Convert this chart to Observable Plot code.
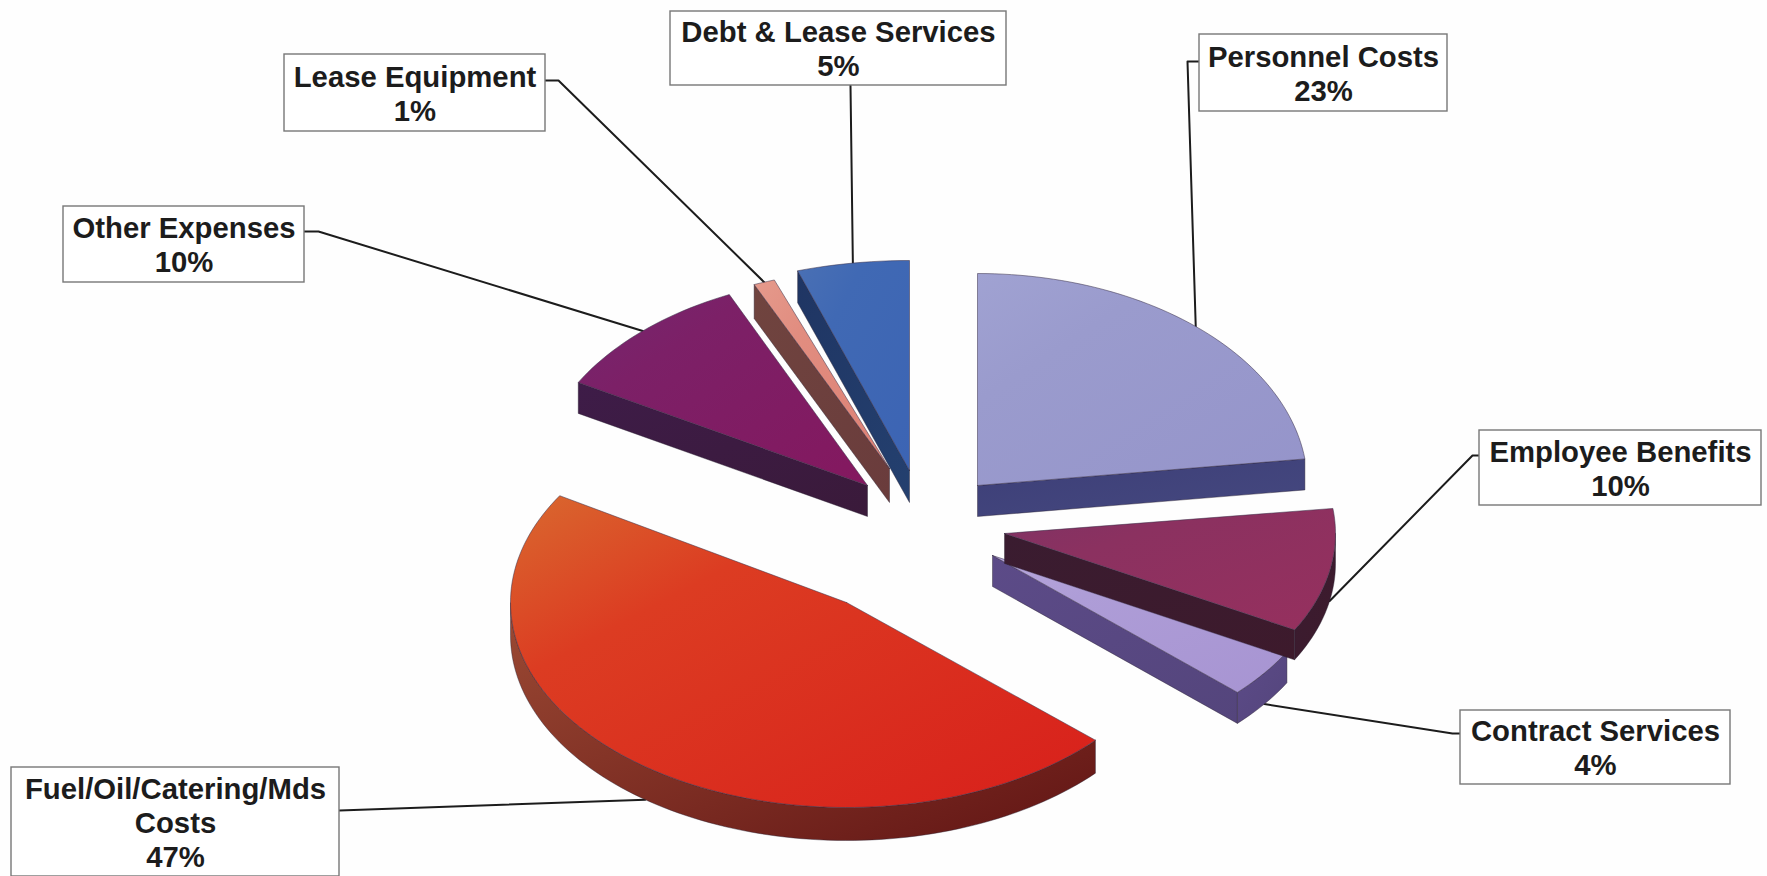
<!DOCTYPE html>
<html>
<head>
<meta charset="utf-8">
<script src="https://cdn.jsdelivr.net/npm/d3@7"></script>
<script src="https://cdn.jsdelivr.net/npm/@observablehq/plot@0.6"></script>
<style>
  html, body { margin: 0; padding: 0; background: #fefefe; }
  svg { display: block; }
</style>
</head>
<body>
<div id="chart"></div>
<script>
// Operating expense shares, in clockwise order from twelve o'clock
const categories = ["Personnel Costs", "Employee Benefits", "Contract Services",
  "Fuel/Oil/Catering/Mds\nCosts", "Other Expenses", "Lease Equipment", "Debt & Lease Services"];
const shares = [23, 10, 4, 47, 10, 1, 5];

// Exploded-slice layout: where each wedge's tip sits, its elliptical radii and wall height
const tipX = [977, 1004, 992, 846, 867, 889, 909];
const tipY = [485, 533, 555, 602, 485, 468, 470];
const radiusX = [330, 331, 336, 336, 332, 345, 362];
const radiusY = [212, 200, 200, 205, 210, 200, 210];
const spin = [0, 0, 0, -1, -3, -1.5, 0];
const wall = [31, 30, 31, 33, 31, 34, 32];

// Face colours: first, middle and last gradient stops
const topFrom = ["#a0a2d2", "#7f3264", "#b7a6dc", "#d9692f", "#74276f", "#e59a8c", "#4a70b4"];
const topMid = ["#9a9bcd", "#8b3160", "#ae9dd7", "#dc3c22", "#7c2067", "#e18d80", "#4069b4"];
const topTo = ["#9594ca", "#96305e", "#a794d2", "#d81f1b", "#84185f", "#dd8074", "#3c64b4"];
const sideFrom = ["#3d3f78", "#3a1c30", "#5c4b88", "#9c4a34", "#3e1c48", "#70443f", "#1f3563"];
const sideTo = ["#45487f", "#3d1a2c", "#54457c", "#611414", "#3a1a3a", "#6a3c3c", "#24406f"];

// Label boxes and the elbow where each leader leaves its box
const boxLeft = [1199, 1479, 1460, 11, 63, 284, 670];
const boxRight = [1447, 1761, 1730, 339, 304, 545, 1006];
const boxTop = [34, 430, 710, 767, 206, 54, 11];
const boxBottom = [111, 505, 784, 876, 282, 131, 85];
const leaderOutX = [1199, 1479, 1460, 339, 304, 545, 850];
const leaderOutY = [61, 455, 733, 810, 231, 80, 85];
const leaderElbowX = [1187, 1472, 1452, 339, 318, 558, 850];

const rad = Math.PI / 180;
const total = d3.sum(shares);
let running = 0;
const slices = categories.map((name, i) => {
  const start = running / total * 360 + spin[i];
  running += shares[i];
  const end = running / total * 360 + spin[i];
  const at = (deg, drop = 0) => ({
    x: tipX[i] + radiusX[i] * Math.sin(deg * rad),
    y: tipY[i] - radiusY[i] * Math.cos(deg * rad) + drop
  });
  return {i, name, share: shares[i], start, end, at};
});

const arcAngles = (from, to) => {
  const n = Math.max(2, Math.ceil((to - from) / 1.5));
  return d3.range(n + 1).map(k => from + (to - from) * k / n);
};
const closed = pts => [...pts, pts[0]];

const tipPoint = s => ({x: tipX[s.i], y: tipY[s.i]});
const topFace = s => closed([tipPoint(s), ...arcAngles(s.start, s.end).map(a => s.at(a))]);

// Walls that face the viewer: a cut edge turned downward, and the front part of the rim
function wallFaces(s) {
  const h = wall[s.i], faces = [];
  const sinEnd = Math.sin(s.end * rad), sinStart = Math.sin(s.start * rad);
  const cut = (deg) => {
    const p = s.at(deg), t = tipPoint(s);
    return closed([t, p, {x: p.x, y: p.y + h}, {x: t.x, y: t.y + h}]);
  };
  if (sinEnd > 1e-6) faces.push(cut(s.end));
  if (sinStart < -1e-6) faces.push(cut(s.start));
  const a = Math.max(s.start, 90), b = Math.min(s.end, 270);
  if (b > a) {
    const along = arcAngles(a, b);
    faces.push(closed([...along.map(d => s.at(d)), ...along.slice().reverse().map(d => s.at(d, h))]));
  }
  return faces;
}

// Leaders run from the box to the middle of the wedge's outer edge
const leaderPath = s => {
  const mid = (s.start + s.end) / 2;
  const front = Math.cos(mid * rad) < 0;
  const endPoint = s.at(mid, front ? wall[s.i] : 0);
  const i = s.i;
  return [{x: leaderOutX[i], y: leaderOutY[i]}, {x: leaderElbowX[i], y: leaderOutY[i]}, endPoint];
};

// Soft shading on the wedge faces
const gradients = () => {
  const svgNS = "http://www.w3.org/2000/svg";
  const defs = document.createElementNS(svgNS, "defs");
  const add = (id, stops) => {
    const g = document.createElementNS(svgNS, "linearGradient");
    g.setAttribute("id", id);
    g.setAttribute("x1", "0"); g.setAttribute("y1", "0");
    g.setAttribute("x2", "1"); g.setAttribute("y2", "1");
    stops.forEach(([o, c]) => {
      const stop = document.createElementNS(svgNS, "stop");
      stop.setAttribute("offset", o);
      stop.setAttribute("stop-color", c);
      g.appendChild(stop);
    });
    defs.appendChild(g);
  };
  categories.forEach((_, i) => {
    add("top" + i, [[0, topFrom[i]], [0.3, topMid[i]], [1, topTo[i]]]);
    add("side" + i, [[0, sideFrom[i]], [1, sideTo[i]]]);
  });
  return defs;
};

const drawOrder = [6, 5, 4, 0, 3, 2, 1];
const faceMarks = drawOrder.flatMap(i => {
  const s = slices[i];
  return [
    ...wallFaces(s).map(f => Plot.line(f, {x: "x", y: "y", fill: `url(#side${i})`, stroke: "#2a2030", strokeWidth: 0.6, strokeOpacity: 0.7})),
    Plot.line(topFace(s), {x: "x", y: "y", fill: `url(#top${i})`, stroke: "#3a3048", strokeWidth: 0.7, strokeOpacity: 0.75})
  ];
});

const chart = Plot.plot({
  width: 1767,
  height: 876,
  margin: 0,
  axis: null,
  style: {background: "#fefefe"},
  x: {domain: [0, 1767]},
  y: {domain: [876, 0]},
  marks: [
    gradients,
    ...slices.map(s => Plot.line(leaderPath(s), {x: "x", y: "y", stroke: "#1c1c1c", strokeWidth: 2})),
    ...faceMarks,
    Plot.rect(slices, {
      x1: s => boxLeft[s.i], x2: s => boxRight[s.i],
      y1: s => boxTop[s.i], y2: s => boxBottom[s.i],
      fill: "#ffffff", stroke: "#777777", strokeWidth: 1.4
    }),
    Plot.text(slices, {
      x: s => (boxLeft[s.i] + boxRight[s.i]) / 2,
      y: s => (boxTop[s.i] + boxBottom[s.i]) / 2,
      text: s => `${s.name}\n${s.share}%`,
      fontFamily: "Liberation Sans",
      fontWeight: "bold",
      fontSize: 29.3,
      lineHeight: 1.16,
      fill: "#1c1c1c",
      textAnchor: "middle"
    })
  ]
});
document.getElementById("chart").appendChild(chart);
</script>
</body>
</html>
